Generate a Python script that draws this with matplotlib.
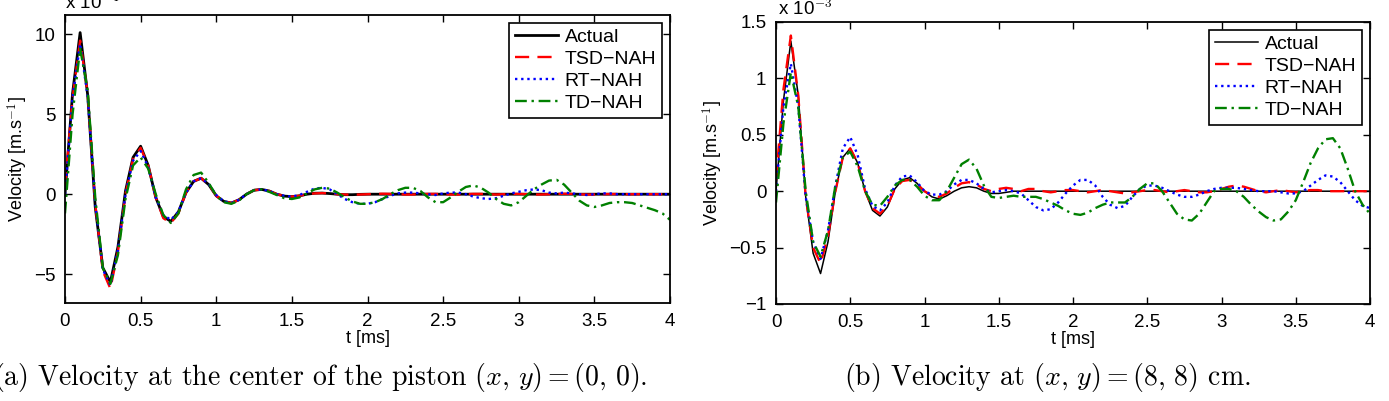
import numpy as np
import matplotlib
matplotlib.use('Agg')
import matplotlib.pyplot as plt

plt.rcParams['font.family'] = ['Liberation Sans', 'DejaVu Sans']
plt.rcParams['mathtext.fontset'] = 'cm'

# time axis, 0 to 4 ms every 0.05 ms
t = np.linspace(0, 4, 81)
labels = ['Actual', 'TSD\u2212NAH', 'RT\u2212NAH', 'TD\u2212NAH']

# (a) centre of the piston, values in units of 1e-4 m/s
left_actual = [0.0, 6.3, 10.1, 6.2, -0.8, -4.6, -5.5, -3.3, 0.2, 2.3,
               3.0, 1.8, -0.2, -1.4, -1.7, -1.1, 0.1, 0.8, 1.0, 0.6,
               -0.1, -0.45, -0.55, -0.35, 0.0, 0.25, 0.3, 0.2, 0.0, -0.12,
               -0.15, -0.1, 0.0, 0.06, 0.07, 0.04, 0.0, -0.03, -0.03, -0.01,
               0.0, 0.0, 0.0, 0.0, 0.0, 0.0, 0.0, 0.0, 0.0, 0.0,
               0.0, 0.0, 0.0, 0.0, 0.0, 0.0, 0.0, 0.0, 0.0, 0.0,
               0.0, 0.0, 0.0, 0.0, 0.0, 0.0, 0.0, 0.0, 0.0, 0.0,
               0.0, 0.0, 0.0, 0.0, 0.0, 0.0, 0.0, 0.0, 0.0, 0.0,
               0.0]
left_tsd = [0.5, 6.0, 9.6, 6.3, -0.6, -4.8, -5.9, -3.6, 0.0, 2.2,
            2.9, 1.8, -0.2, -1.5, -1.8, -1.2, 0.1, 0.8, 1.0, 0.6,
            -0.1, -0.45, -0.55, -0.35, 0.0, 0.25, 0.3, 0.2, 0.0, -0.1,
            -0.15, -0.1, 0.0, 0.05, 0.07, 0.05, 0.0, -0.02, -0.03, -0.02,
            0.0, 0.02, 0.03, 0.02, 0.0, -0.02, -0.02, 0.0, 0.02, 0.02,
            0.0, -0.02, -0.02, 0.0, 0.02, 0.02, 0.0, -0.02, 0.0, 0.02,
            0.02, 0.0, -0.02, -0.02, 0.0, 0.02, 0.03, 0.02, 0.0, -0.02,
            -0.02, 0.0, 0.01, 0.01, 0.0, 0.0, 0.0, 0.0, 0.0, 0.0,
            0.0]
left_rt = [0.0, 6.0, 9.4, 6.1, -0.6, -4.7, -5.7, -3.5, 0.0, 2.1,
           2.7, 1.7, -0.2, -1.3, -1.6, -1.1, 0.1, 0.8, 1.0, 0.65,
           -0.05, -0.45, -0.55, -0.35, 0.0, 0.25, 0.3, 0.2, 0.0, -0.1,
           -0.15, -0.05, 0.15, 0.35, 0.4, 0.3, 0.0, -0.3, -0.5, -0.6,
           -0.6, -0.5, -0.3, -0.1, 0.05, 0.1, 0.1, 0.05, 0.0, -0.05,
           0.05, 0.1, 0.1, 0.0, -0.15, -0.25, -0.3, -0.25, -0.1, 0.05,
           0.15, 0.25, 0.3, 0.25, 0.1, 0.05, 0.1, 0.05, 0.0, -0.05,
           0.0, 0.05, 0.05, 0.0, 0.0, 0.0, 0.0, 0.0, 0.0, 0.0,
           0.0]
left_td = [-1.2, 5.0, 9.1, 6.5, -0.2, -4.6, -5.6, -3.8, -0.3, 1.8,
           2.3, 1.6, 0.0, -1.3, -1.8, -1.2, 0.3, 1.2, 1.35, 0.7,
           -0.1, -0.5, -0.6, -0.4, 0.0, 0.25, 0.3, 0.15, -0.05, -0.25,
           -0.3, -0.2, 0.05, 0.3, 0.4, 0.35, 0.1, -0.2, -0.45, -0.6,
           -0.6, -0.5, -0.3, 0.0, 0.25, 0.4, 0.4, 0.2, -0.2, -0.5,
           -0.5, -0.2, 0.15, 0.45, 0.55, 0.4, 0.1, -0.3, -0.6, -0.7,
           -0.5, -0.1, 0.3, 0.6, 0.85, 0.9, 0.6, 0.1, -0.4, -0.7,
           -0.8, -0.7, -0.55, -0.5, -0.5, -0.55, -0.7, -0.85, -1.0, -1.2,
           -1.6]

# (b) at (x, y) = (8, 8) cm, values in units of 1e-3 m/s
right_actual = [0.0, 0.8, 1.33, 0.85, -0.05, -0.55, -0.73, -0.45, 0.0, 0.3,
                0.38, 0.25, 0.0, -0.17, -0.22, -0.14, 0.02, 0.1, 0.12, 0.07,
                0.0, -0.05, -0.07, -0.04, 0.0, 0.03, 0.04, 0.03, 0.0, -0.02,
                -0.02, -0.01, 0.0, 0.0, 0.0, 0.0, 0.0, 0.0, 0.0, 0.0,
                0.0, 0.0, 0.0, 0.0, 0.0, 0.0, 0.0, 0.0, 0.0, 0.0,
                0.0, 0.0, 0.0, 0.0, 0.0, 0.0, 0.0, 0.0, 0.0, 0.0,
                0.0, 0.0, 0.0, 0.0, 0.0, 0.0, 0.0, 0.0, 0.0, 0.0,
                0.0, 0.0, 0.0, 0.0, 0.0, 0.0, 0.0, 0.0, 0.0, 0.0,
                0.0]
right_tsd = [0.1, 0.9, 1.38, 0.85, -0.05, -0.5, -0.64, -0.4, 0.0, 0.3,
             0.38, 0.25, 0.0, -0.15, -0.2, -0.13, 0.02, 0.09, 0.1, 0.06,
             0.0, -0.04, -0.05, -0.02, 0.03, 0.07, 0.08, 0.06, 0.02, 0.0,
             0.02, 0.03, 0.02, 0.0, 0.02, 0.02, 0.0, -0.01, 0.0, 0.01,
             0.01, 0.0, -0.01, 0.0, 0.01, 0.0, -0.01, -0.02, -0.01, 0.0,
             0.01, 0.01, 0.0, -0.01, 0.0, 0.01, 0.0, -0.01, -0.01, 0.0,
             0.02, 0.04, 0.05, 0.04, 0.02, 0.0, -0.01, 0.0, 0.01, 0.0,
             -0.01, 0.0, 0.01, 0.01, 0.0, 0.0, 0.0, 0.0, 0.0, 0.0,
             0.0]
right_rt = [0.0, 0.75, 1.13, 0.75, -0.05, -0.45, -0.6, -0.35, 0.05, 0.38,
            0.48, 0.32, 0.02, -0.13, -0.17, -0.1, 0.05, 0.13, 0.14, 0.08,
            0.0, -0.03, -0.03, 0.0, 0.06, 0.1, 0.1, 0.07, 0.02, -0.01,
            0.0, 0.01, 0.0, -0.02, -0.08, -0.14, -0.17, -0.16, -0.1, -0.02,
            0.05, 0.1, 0.1, 0.05, -0.05, -0.12, -0.15, -0.13, -0.05, 0.02,
            0.05, 0.05, 0.03, 0.0, -0.03, -0.05, -0.05, -0.03, 0.0, 0.02,
            0.03, 0.03, 0.03, 0.02, 0.01, 0.0, 0.0, 0.0, -0.01, -0.02,
            -0.02, 0.0, 0.05, 0.1, 0.14, 0.13, 0.08, 0.0, -0.08, -0.13,
            -0.15]
right_td = [-0.1, 0.6, 1.05, 0.75, 0.0, -0.45, -0.58, -0.35, 0.05, 0.3,
            0.35, 0.22, 0.0, -0.12, -0.13, -0.05, 0.05, 0.1, 0.1, 0.04,
            -0.04, -0.08, -0.08, 0.0, 0.12, 0.24, 0.28, 0.2, 0.05, -0.05,
            -0.06, -0.05, -0.04, -0.05, -0.05, -0.05, -0.07, -0.1, -0.13, -0.17,
            -0.2, -0.21, -0.19, -0.15, -0.12, -0.1, -0.1, -0.1, -0.05, 0.02,
            0.07, 0.07, 0.0, -0.1, -0.2, -0.25, -0.26, -0.2, -0.1, 0.0,
            0.02, 0.02, 0.0, -0.05, -0.12, -0.18, -0.23, -0.26, -0.25, -0.18,
            -0.08, 0.08, 0.25, 0.38, 0.46, 0.47, 0.38, 0.2, 0.0, -0.12,
            -0.2]

styles = [dict(color='black', ls='-'),
          dict(color='#ff0000', ls=(0, (6, 3.5))),
          dict(color='#0000ff', ls=(0, (1, 1.6))),
          dict(color='#008000', ls=(0, (5, 2, 1, 2)))]


def panel(ax, series, black_lw, ylim, yticks, yticklabels):
    for i, (y, lab) in enumerate(zip(series, labels)):
        lw = black_lw if i == 0 else 1.7
        ax.plot(t, y, lw=lw, label=lab, **styles[i])
    ax.set_xlim(0, 4)
    ax.set_ylim(*ylim)
    ax.set_xticks(np.arange(0, 4.01, 0.5))
    ax.set_xticklabels(['0', '0.5', '1', '1.5', '2', '2.5', '3', '3.5', '4'])
    ax.set_yticks(yticks)
    ax.set_yticklabels(yticklabels)
    ax.tick_params(direction='in', top=True, right=True, length=5,
                   width=1.0, labelsize=13.5, pad=7)
    for s in ax.spines.values():
        s.set_linewidth(1.3)
    ax.set_xlabel('t [ms]', fontsize=13, labelpad=0)
    ax.set_ylabel('Velocity [m.s$^{-1}$]', fontsize=13, labelpad=3)
    leg = ax.legend(loc='upper right', fontsize=14, fancybox=False,
                    edgecolor='black', framealpha=1, handlelength=2.2,
                    handletextpad=0.35, borderpad=0.3, labelspacing=0.22,
                    borderaxespad=0.4)
    leg.get_frame().set_linewidth(1.2)


fig = plt.figure(figsize=(13.89, 4.01), dpi=100)
ax1 = fig.add_axes([65/1389, 1-303/401, 605/1389, 288/401])
ax2 = fig.add_axes([776/1389, 1-304/401, 594/1389, 282/401])

panel(ax1, [left_actual, left_tsd, left_rt, left_td], 2.0, (-6.8, 11.2),
      [-5, 0, 5, 10], ['\u22125', '0', '5', '10'])
panel(ax2, [right_actual, right_tsd, right_rt, right_td], 1.1, (-1, 1.5),
      [-1, -0.5, 0, 0.5, 1, 1.5], ['\u22121', '\u22120.5', '0', '0.5', '1', '1.5'])

# exponent labels, cut off by the top edge as in the original
fig.text(65/1389, 1-9/401, 'x 10$^{-4}$', fontsize=13.5, va='baseline')
fig.text(778/1389, 1-15/401, 'x 10$^{-3}$', fontsize=13.5, va='baseline')

fig.text(320/1389, 1-377/401,
         r'(a) Velocity at the center of the piston $(x,\,y) = (0,\,0)$.',
         family='cmr10', fontsize=20, ha='center', va='center')
fig.text(1047/1389, 1-377/401,
         r'(b) Velocity at $(x,\,y) = (8,\,8)$ cm.',
         family='cmr10', fontsize=20, ha='center', va='center')

fig.savefig('out.png', dpi=100)
